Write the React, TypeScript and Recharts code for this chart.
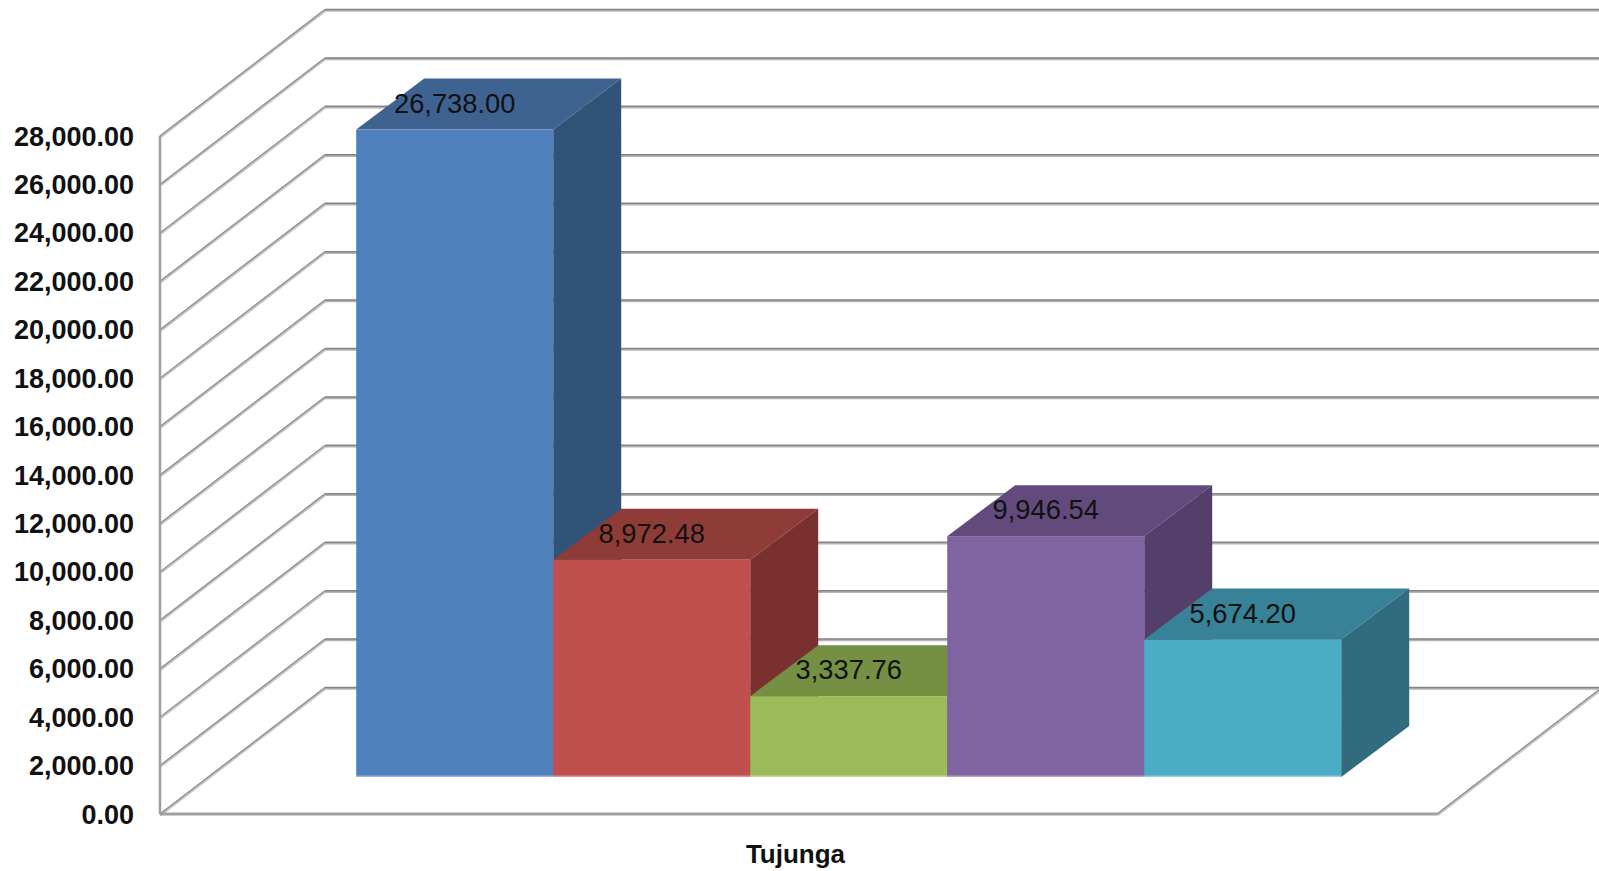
import { BarChart, Bar, XAxis, YAxis, CartesianGrid, LabelList } from "recharts";

const categories = ["Tujunga"];
const seriesKeys = ["s1", "s2", "s3", "s4", "s5"];
const seriesValues = [26738.0, 8972.48, 3337.76, 9946.54, 5674.2];
const yTicks = [0, 2000, 4000, 6000, 8000, 10000, 12000, 14000, 16000, 18000, 20000, 22000, 24000, 26000, 28000];

const frontColors = ["#4F81BD", "#C0504D", "#9BBB59", "#8064A2", "#4BACC6"];
const topColors = ["#3F6391", "#8F3B38", "#758F43", "#624B7C", "#378296"];
const sideColors = ["#325378", "#7A302E", "#637A39", "#533F69", "#306C7E"];

const data = categories.map((name) => {
  const row: any = { name };
  seriesKeys.forEach((key, i) => {
    row[key] = seriesValues[i];
  });
  return row;
});

// fake 3d offsets: floor = where the bars stand, depth = bar thickness, wall = back wall
const FLOOR = { dx: 50, dy: -37 };
const DEPTH = { dx: 68, dy: -51 };
const WALL = { dx: 165, dy: -126.5 };

const formatValue = (v: number) =>
  v.toLocaleString("en-US", { minimumFractionDigits: 2, maximumFractionDigits: 2 });

const Bar3D = ({ x, y, width, height, colors }: any) => {
  const left = x + FLOOR.dx;
  const right = left + width;
  const top = y + FLOOR.dy;
  const bottom = top + height;
  const { dx, dy } = DEPTH;
  return (
    <g>
      <polygon
        points={`${left},${top} ${left + dx},${top + dy} ${right + dx},${top + dy} ${right},${top}`}
        fill={colors.top}
      />
      <polygon
        points={`${right},${top} ${right + dx},${top + dy} ${right + dx},${bottom + dy} ${right},${bottom}`}
        fill={colors.side}
      />
      <rect x={left} y={top} width={width} height={height} fill={colors.front} />
      <rect x={left} y={bottom - 1.5} width={width} height={1.5} fill="#ffffff" opacity={0.4} />
    </g>
  );
};

const ValueLabel = ({ x, y, width, value }: any) => (
  <text
    x={x + width / 2 + FLOOR.dx}
    y={y + FLOOR.dy + DEPTH.dy / 2 - 1}
    textAnchor="middle"
    dominantBaseline="central"
    fontFamily="Liberation Sans"
    fontSize={27.3}
    fill="#111111"
  >
    {formatValue(value)}
  </text>
);

// each horizontal grid line runs up the side wall and along the back wall
const WallLine = ({ x1, x2, y1, index }: any) => {
  const backX = x1 + WALL.dx;
  const backY = y1 + WALL.dy;
  const isFloor = Math.abs(y1 - 814) < 1;
  return (
    <g key={index} fill="none">
      <path d={`M${x1},${y1 + 1} L${backX},${backY + 1}`} stroke="#c4c4c4" strokeWidth={3} />
      <path d={`M${x1},${y1} L${backX},${backY}`} stroke="#8f8f8f" strokeWidth={1.2} />
      <path d={`M${backX},${backY + 1} L${x2 + WALL.dx},${backY + 1}`} stroke="#b4b4b4" strokeWidth={2.5} />
      <path d={`M${backX},${backY} L${x2 + WALL.dx},${backY}`} stroke="#858585" strokeWidth={1.5} />
      {isFloor && (
        <>
          <path d={`M${x2},${y1 + 1} L${x2 + WALL.dx},${backY + 1}`} stroke="#c4c4c4" strokeWidth={3} />
          <path d={`M${x2},${y1} L${x2 + WALL.dx},${backY}`} stroke="#8f8f8f" strokeWidth={1.2} />
        </>
      )}
    </g>
  );
};

export default function App() {
  return (
    <div style={{ position: "absolute", left: 0, top: 0, width: 1599, height: 871, overflow: "hidden", background: "#fff" }}>
      <BarChart
        width={1599}
        height={871}
        data={data}
        margin={{ top: 136, right: 162, left: 0, bottom: 0 }}
        barGap={0}
        barCategoryGap="11.45%"
      >
        <CartesianGrid vertical={false} horizontal={(props: any) => <WallLine {...props} />} />
        <XAxis
          dataKey="name"
          height={57}
          tickLine={false}
          tickSize={0}
          tickMargin={31}
          axisLine={{ stroke: "#a0a0a0", strokeWidth: 3 }}
          tick={{ fontSize: 26, fontWeight: 700, fontFamily: "Liberation Sans", fill: "#111111", dx: -3 }}
        />
        <YAxis
          width={160}
          domain={[0, 28000]}
          ticks={yTicks}
          interval={0}
          tickLine={false}
          tickSize={0}
          tickMargin={26}
          tickFormatter={formatValue}
          axisLine={{ stroke: "#a0a0a0", strokeWidth: 2.5 }}
          tick={{ fontSize: 27, fontWeight: 700, fontFamily: "Liberation Sans", fill: "#111111" }}
        />
        {seriesKeys.map((key, i) => (
          <Bar
            key={key}
            dataKey={key}
            isAnimationActive={false}
            shape={(props: any) => (
              <Bar3D {...props} colors={{ front: frontColors[i], top: topColors[i], side: sideColors[i] }} />
            )}
          >
            <LabelList dataKey={key} content={(props: any) => <ValueLabel {...props} />} />
          </Bar>
        ))}
      </BarChart>
    </div>
  );
}
